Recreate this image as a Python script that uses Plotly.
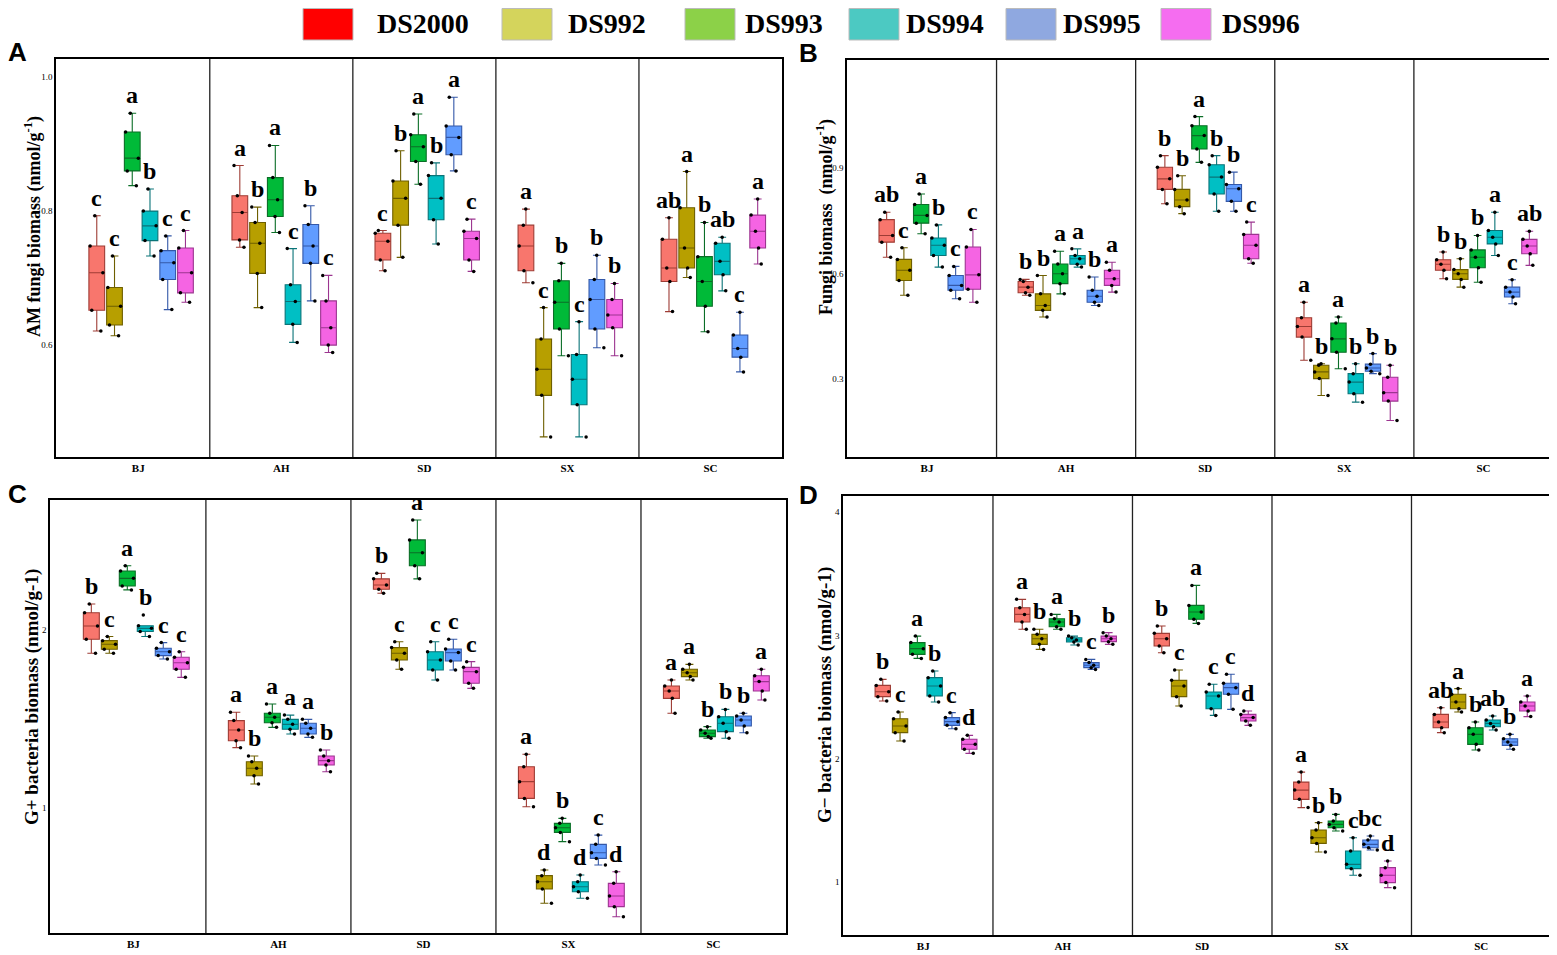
import plotly.graph_objects as go

# the page body has an 8px margin, so the figure is drawn 8px in and 8px down
OFF = 8
W, H = 1557 - OFF, 955 - OFF


def px(x):
    return (x - OFF) / W


def py(y):
    return 1 - (y - OFF) / H


sites = ["BJ", "AH", "SD", "SX", "SC"]
cultivars = ["DS2000", "DS992", "DS993", "DS994", "DS995", "DS996"]

# box fill / outline colours (ggplot hues) and the separate legend colours
box_fill = ["#F8766D", "#B79F00", "#00BA38", "#00BFC4", "#619CFF", "#F564E3"]
box_line = ["#9E3C35", "#6E5F00", "#0B6E27", "#0A7478", "#3458A8", "#9C3590"]
legend_fill = ["#FF0000", "#D4D45C", "#8CD148", "#4CC9C2", "#8FA8E0", "#F56DF0"]

# rows = cultivars, columns = sites (BJ, AH, SD, SX, SC)
# A: AM fungi biomass
am_lo = [[.621, .746, .711, .693, .650], [.614, .656, .731, .463, .701],
         [.838, .768, .840, .584, .620], [.733, .604, .751, .463, .681],
         [.653, .666, .860, .596, .560], [.664, .589, .710, .584, .721]]
am_q1 = [[.652, .757, .727, .711, .695], [.630, .707, .779, .525, .715],
         [.860, .792, .874, .624, .658], [.756, .631, .787, .511, .705],
         [.698, .722, .884, .624, .582], [.678, .600, .727, .626, .745]]
am_med = [[.708, .798, .755, .748, .715], [.658, .752, .819, .564, .745],
          [.879, .817, .896, .664, .695], [.778, .665, .819, .549, .725],
          [.723, .748, .910, .668, .595], [.708, .626, .759, .645, .770]]
am_q3 = [[.748, .823, .767, .779, .758], [.686, .783, .845, .609, .805],
         [.918, .850, .914, .696, .732], [.800, .690, .853, .586, .752],
         [.741, .780, .927, .698, .615], [.745, .666, .770, .668, .794]]
am_hi = [[.793, .868, .771, .803, .790], [.733, .806, .890, .656, .859],
         [.946, .898, .945, .722, .783], [.833, .744, .872, .635, .761],
         [.763, .808, .970, .734, .649], [.771, .704, .788, .692, .818]]
am_letters = [["c", "a", "c", "a", "ab"], ["c", "b", "b", "c", "a"],
              ["a", "a", "a", "b", "b"], ["b", "c", "b", "c", "ab"],
              ["c", "b", "a", "b", "c"], ["c", "c", "c", "b", "a"]]

# B: fungi biomass
fu_lo = [[.646, .538, .798, .353, .585], [.538, .476, .770, .253, .561],
         [.713, .542, .916, .329, .575], [.618, .618, .777, .234, .651],
         [.528, .509, .777, .315, .514], [.518, .547, .629, .182, .623]]
fu_q1 = [[.689, .545, .839, .419, .609], [.580, .495, .790, .301, .583],
         [.743, .571, .954, .376, .616], [.651, .626, .826, .258, .684],
         [.552, .518, .805, .322, .533], [.555, .566, .642, .237, .656]]
fu_med = [[.708, .561, .869, .449, .626], [.609, .509, .809, .320, .599],
          [.765, .599, .992, .414, .646], [.680, .642, .874, .291, .703],
          [.566, .535, .841, .331, .547], [.596, .585, .680, .261, .678]]
fu_q3 = [[.753, .577, .902, .474, .639], [.640, .542, .839, .339, .611],
         [.796, .627, 1.020, .459, .667], [.701, .651, .909, .315, .722],
         [.594, .552, .853, .342, .561], [.675, .609, .711, .305, .697]]
fu_hi = [[.774, .583, .935, .518, .661], [.673, .594, .878, .343, .642],
         [.826, .663, 1.046, .476, .708], [.738, .670, .935, .343, .774],
         [.620, .590, .888, .372, .582], [.725, .632, .746, .339, .720]]
fu_letters = [["ab", "b", "b", "a", "b"], ["c", "b", "b", "b", "b"],
              ["a", "a", "a", "a", "b"], ["b", "a", "b", "b", "a"],
              ["c", "b", "b", "b", "c"], ["c", "a", "c", "b", "ab"]]

# C: G+ bacteria biomass
gp_lo = [[1.869, 1.339, 2.206, 1.007, 1.532], [1.869, 1.135, 1.779, 0.465, 1.719],
         [2.225, 1.453, 2.287, 0.811, 1.392], [1.963, 1.416, 1.719, 0.493, 1.392],
         [1.837, 1.397, 1.775, 0.680, 1.423], [1.734, 1.204, 1.672, 0.389, 1.607]]
gp_q1 = [[1.948, 1.378, 2.229, 1.054, 1.616], [1.892, 1.181, 1.831, 0.545, 1.738],
         [2.247, 1.479, 2.361, 0.863, 1.401], [1.991, 1.442, 1.775, 0.530, 1.429],
         [1.856, 1.416, 1.826, 0.717, 1.461], [1.779, 1.242, 1.701, 0.446, 1.657]]
gp_med = [[2.022, 1.438, 2.253, 1.148, 1.657], [1.920, 1.223, 1.869, 0.586, 1.760],
          [2.290, 1.510, 2.434, 0.889, 1.420], [2.009, 1.470, 1.831, 0.558, 1.476],
          [1.878, 1.448, 1.873, 0.749, 1.494], [1.816, 1.266, 1.766, 0.506, 1.710]]
gp_q3 = [[2.097, 1.491, 2.287, 1.232, 1.685], [1.940, 1.260, 1.901, 0.620, 1.779],
         [2.331, 1.532, 2.506, 0.914, 1.438], [2.024, 1.498, 1.878, 0.586, 1.513],
         [1.897, 1.476, 1.893, 0.796, 1.517], [1.847, 1.292, 1.790, 0.577, 1.743]]
gp_hi = [[2.146, 1.538, 2.318, 1.302, 1.719], [1.963, 1.292, 1.934, 0.652, 1.807],
         [2.361, 1.584, 2.618, 0.942, 1.457], [2.084, 1.522, 1.934, 0.624, 1.554],
         [1.929, 1.498, 1.948, 0.848, 1.532], [1.878, 1.326, 1.822, 0.642, 1.779]]
gp_letters = [["b", "a", "b", "a", "a"], ["c", "b", "c", "d", "a"],
              ["a", "a", "a", "b", "b"], ["b", "a", "c", "d", "b"],
              ["c", "a", "c", "c", "b"], ["c", "b", "c", "d", "a"]]

# D: G- bacteria biomass
gn_lo = [[2.467, 3.049, 2.859, 1.603, 2.211], [2.143, 2.886, 2.427, 1.243, 2.378],
         [2.813, 3.049, 3.097, 1.413, 2.070], [2.459, 2.922, 2.351, 1.054, 2.232],
         [2.243, 2.724, 2.400, 1.259, 2.076], [2.043, 2.927, 2.270, 0.954, 2.341]]
gn_q1 = [[2.503, 3.108, 2.913, 1.670, 2.251], [2.211, 2.927, 2.503, 1.313, 2.405],
         [2.846, 3.070, 3.130, 1.440, 2.116], [2.508, 2.946, 2.405, 1.108, 2.259],
         [2.270, 2.738, 2.522, 1.278, 2.108], [2.076, 2.949, 2.305, 0.995, 2.386]]
gn_med = [[2.543, 3.170, 2.973, 1.745, 2.297], [2.265, 2.973, 2.589, 1.359, 2.459],
          [2.892, 3.108, 3.189, 1.467, 2.197], [2.589, 2.962, 2.508, 1.143, 2.286],
          [2.300, 2.757, 2.576, 1.305, 2.135], [2.116, 2.973, 2.333, 1.054, 2.427]]
gn_q3 = [[2.594, 3.224, 3.016, 1.810, 2.359], [2.324, 3.008, 2.635, 1.421, 2.522],
         [2.941, 3.135, 3.243, 1.494, 2.251], [2.657, 2.981, 2.540, 1.251, 2.313],
         [2.333, 2.779, 2.611, 1.340, 2.162], [2.157, 2.994, 2.359, 1.116, 2.459]]
gn_hi = [[2.643, 3.292, 3.076, 1.891, 2.413], [2.378, 3.049, 2.719, 1.481, 2.568],
         [2.994, 3.170, 3.405, 1.548, 2.297], [2.711, 2.994, 2.603, 1.359, 2.346],
         [2.373, 2.805, 2.684, 1.373, 2.197], [2.189, 3.022, 2.386, 1.170, 2.508]]
gn_letters = [["b", "a", "b", "a", "ab"], ["c", "b", "c", "b", "a"],
              ["a", "a", "a", "b", "b"], ["b", "b", "c", "c", "ab"],
              ["c", "c", "c", "bc", "b"], ["d", "b", "d", "d", "a"]]

panels = [
    dict(tag="A", stats=(am_lo, am_q1, am_med, am_q3, am_hi), letters=am_letters,
         box=(56, 782, 59, 457), yrange=[0.433, 1.027], ticks=[0.6, 0.8, 1.0],
         ticktext=["0.6", "0.8", "1.0"], title_size=18,
         title="AM fungi biomass (nmol/g<sup>-1</sup>)", title_pos=(33, 227)),
    dict(tag="B", stats=(fu_lo, fu_q1, fu_med, fu_q3, fu_hi), letters=fu_letters,
         box=(847, 1553, 60, 457), yrange=[0.078, 1.207], ticks=[0.3, 0.6, 0.9],
         ticktext=["0.3", "0.6", "0.9"], title_size=18,
         title="Fungi biomass\u00a0\u00a0(nmol/g<sup>-1</sup>)", title_pos=(825, 217)),
    dict(tag="C", stats=(gp_lo, gp_q1, gp_med, gp_q3, gp_hi), letters=gp_letters,
         box=(50, 786, 500, 933), yrange=[0.298, 2.73], ticks=[1, 2],
         ticktext=["1", "2"], title_size=19,
         title="G+ bacteria biomass (nmol/g-1)", title_pos=(32, 697)),
    dict(tag="D", stats=(gn_lo, gn_q1, gn_med, gn_q3, gn_hi), letters=gn_letters,
         box=(843, 1551, 496, 935), yrange=[0.57, 4.13], ticks=[1, 2, 3, 4],
         ticktext=["1", "2", "3", "4"], title_size=19,
         title="G\u2212 bacteria biomass (nmol/g-1)", title_pos=(825, 695)),
]
tag_pos = {"A": (17, 52), "B": (808, 53), "C": (17, 494), "D": (808, 495)}

SERIF = "Liberation Serif, Times New Roman, serif"
fig = go.Figure()
annotations = []
shapes = []
layout_axes = {}

offsets = [(k - 2.5) * 0.124 + 0.02 for k in range(6)]
box_w = 0.11

for p, panel in enumerate(panels):
    sfx = "" if p == 0 else str(p + 1)
    xa, ya = "x" + sfx, "y" + sfx
    x0, x1, y0, y1 = panel["box"]
    layout_axes["xaxis" + sfx] = dict(
        domain=[px(x0), px(x1)], anchor=ya, range=[-0.575, 4.5],
        tickvals=list(range(5)), ticktext=["<b>%s</b>" % s for s in sites],
        tickfont=dict(family=SERIF, size=11, color="black"),
        showline=True, mirror=True, linecolor="black", linewidth=1.5,
        showgrid=False, zeroline=False, ticks="", fixedrange=True)
    layout_axes["yaxis" + sfx] = dict(
        domain=[py(y1), py(y0)], anchor=xa, range=panel["yrange"],
        tickvals=panel["ticks"], ticktext=panel["ticktext"],
        tickfont=dict(family=SERIF, size=9, color="black"),
        showline=True, mirror=True, linecolor="black", linewidth=1.5,
        showgrid=False, zeroline=False, ticks="", fixedrange=True)

    # facet dividers
    for d in [0.5, 1.5, 2.5, 3.5]:
        shapes.append(dict(type="line", xref=xa, yref=ya + " domain",
                           x0=d, x1=d, y0=0, y1=1,
                           line=dict(color="#222222", width=1.3)))

    lo, q1, med, q3, hi = panel["stats"]
    for k, cv in enumerate(cultivars):
        xs, ys = [], []
        for s in range(5):
            pos = s + offsets[k]
            vals = [lo[k][s], q1[k][s], med[k][s], q3[k][s], hi[k][s]]
            xs += [pos] * len(vals)
            ys += vals
            annotations.append(dict(
                x=pos, y=hi[k][s], xref=xa, yref=ya, text="<b>%s</b>" % panel["letters"][k][s],
                showarrow=False, yanchor="bottom", yshift=3,
                font=dict(family=SERIF, size=24, color="black")))
        fig.add_trace(go.Box(
            x=xs, y=ys, xaxis=xa, yaxis=ya, name=cv, width=box_w,
            quartilemethod="inclusive", boxpoints="all", jitter=1.0, pointpos=0,
            fillcolor=box_fill[k], line=dict(color=box_line[k], width=1.1),
            marker=dict(color="black", size=3.5), showlegend=False))

    tx, ty = panel["title_pos"]
    annotations.append(dict(
        x=px(tx), y=py(ty), xref="paper", yref="paper", text="<b>%s</b>" % panel["title"],
        textangle=-90, showarrow=False, xanchor="center", yanchor="middle",
        font=dict(family=SERIF, size=panel["title_size"], color="black")))
    gx, gy = tag_pos[panel["tag"]]
    annotations.append(dict(
        x=px(gx), y=py(gy), xref="paper", yref="paper", text="<b>%s</b>" % panel["tag"],
        showarrow=False, xanchor="center", yanchor="middle",
        font=dict(family="Liberation Sans, Arial, sans-serif", size=26, color="black")))

# hand-made legend across the top
sq_left = [303, 502, 685, 849, 1006, 1161]
lab_left = [375, 566, 743, 904, 1061, 1220]
for k, cv in enumerate(cultivars):
    shapes.append(dict(type="rect", xref="paper", yref="paper",
                       x0=px(sq_left[k]), x1=px(sq_left[k] + 50),
                       y0=py(40), y1=py(8.5),
                       fillcolor=legend_fill[k], line=dict(color="#BBBBBB", width=1)))
    annotations.append(dict(
        x=px(lab_left[k]), y=py(24), xref="paper", yref="paper", text="<b>%s</b>" % cv,
        showarrow=False, xanchor="left", yanchor="middle",
        font=dict(family=SERIF, size=28, color="black")))

fig.update_layout(
    width=W, height=H, margin=dict(l=0, r=0, t=0, b=0),
    paper_bgcolor="white", plot_bgcolor="white",
    showlegend=False, shapes=shapes, annotations=annotations,
    boxmode="overlay", **layout_axes)

fig.write_html("out.html")
